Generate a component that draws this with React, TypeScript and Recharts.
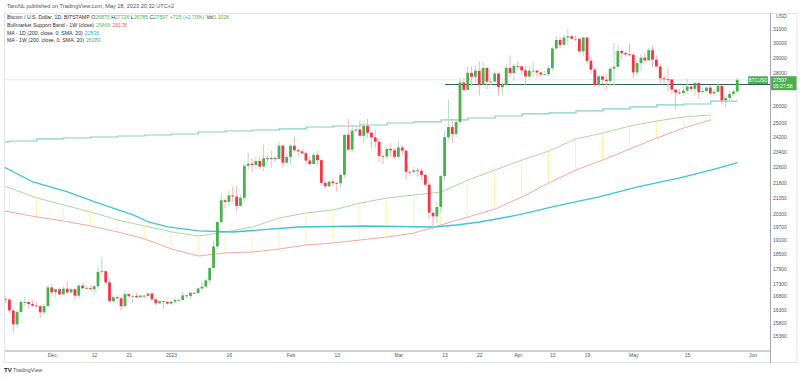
import React from 'react';
import { ComposedChart, Bar, Line, XAxis, YAxis, ReferenceLine } from 'recharts';

// ---------------- data ----------------
const candleStart = '2022-11-19';
const firstOpen = 16700;

const closes = [
  16690, 16280, 15770, 16220, 16600, 16600, 16520, 16460, 16440, 16210, 16440, 17160,
  16970, 17090, 16890, 17110, 16970, 17090, 16840, 17230, 17130, 17130, 17090, 17210, 17780, 17810, 17360, 16630, 16780, 16740, 16440, 16900, 16820, 16830, 16780, 16840, 16830, 16920, 16700, 16550, 16630, 16600, 16540,
  16610, 16670, 16670, 16850, 16830, 16950, 16940, 17120, 17190, 17440, 17940, 18850, 19930, 20950, 20870, 21180, 21130, 20680, 21070, 22670, 22780, 22710, 22920, 22630, 23060, 23010, 23080, 23030, 23740, 22830, 23130,
  23730, 23490, 23430, 23330, 22940, 22760, 23240, 22960, 21800, 21630, 21860, 21790, 21780, 22200, 24330, 23520, 24570, 24630, 24280, 24840, 24450, 24190, 23950, 23190, 23160, 23560, 23490, 23140,
  23640, 23470, 22360, 22350, 22430, 22410, 22200, 21710, 20360, 20190, 20630, 22140, 24200, 24770, 24380, 25060, 27430, 26970, 28040, 27790, 28170, 27310, 28350, 27480, 27490, 28000, 27140, 27270, 28360, 28030, 28480,
  28460, 28200, 27810, 28180, 28180, 28060, 27930, 27950, 28340, 29650, 30230, 29890, 30400, 30490, 30320, 30320, 29450, 30400, 28820, 28250, 27270, 27820, 27600, 27520, 28310, 28430, 29480, 29340, 29250, 29230,
  28070, 28670, 29030, 28850, 29530, 28900, 28450, 27690, 27630, 27620, 26990, 26800, 26780, 26920, 27170, 27030, 27400, 26830, 26890, 27110, 26750, 26850, 27220, 26330, 26470, 26720, 26870, 27597,
];
const highs = [
  16810, 16750, 16290, 16300, 16700, 16810, 16600, 16680, 16600, 16480, 16530, 17240,
  17310, 17100, 17160, 17200, 17410, 17110, 17130, 17300, 17350, 17230, 17270, 17240, 18000, 18390, 17840, 17530, 16800, 16860, 16800, 17050, 16900, 16860, 16950, 16870, 16860, 16950, 16960, 16780, 16650, 16630, 16640,
  16630, 16780, 16760, 17000, 16880, 17000, 16970, 17170, 17400, 17490, 17990, 19100, 19990, 21260, 21030, 21440, 21620, 21650, 21190, 22740, 23350, 23060, 23150, 23170, 23790, 23250, 23490, 23170, 23970, 23800, 23300,
  23810, 24240, 23580, 23570, 23440, 23150, 23360, 23450, 22990, 21900, 21900, 22060, 21880, 22300, 24380, 25240, 24920, 24860, 25150, 25100, 25250, 24480, 24590, 24120, 23210, 23690, 23880, 23600,
  24000, 23780, 23480, 22410, 22610, 22550, 22530, 22250, 21800, 20370, 20860, 22190, 24570, 26390, 25280, 25220, 27750, 27710, 28430, 28450, 28530, 28800, 28780, 28390, 27770, 28200, 28040, 27490, 28650, 29170, 28640,
  28800, 28530, 28490, 28460, 28740, 28190, 28100, 28170, 28520, 29770, 30480, 30440, 30610, 31030, 30590, 30550, 30320, 30480, 30420, 29090, 28380, 27900, 27830, 28000, 28410, 30020, 29890, 29600, 29440, 29960,
  29340, 28880, 29260, 29370, 29690, 29840, 29180, 28650, 27820, 28330, 27630, 27000, 27030, 27190, 27650, 27280, 27470, 27470, 27170, 27160, 27260, 27040, 27480, 27220, 26640, 26930, 26980, 27726,
];
const lows = [
  16560, 16180, 15480, 15630, 16170, 16460, 16350, 16410, 16400, 16000, 16110, 16430,
  16850, 16790, 16860, 16880, 16900, 16910, 16690, 16740, 17090, 17090, 17070, 16880, 17090, 17660, 17280, 16590, 16580, 16690, 16270, 16400, 16760, 16560, 16760, 16780, 16740, 16790, 16600, 16460, 16510, 16330, 16490,
  16490, 16550, 16600, 16650, 16750, 16700, 16900, 16910, 17100, 17150, 17310, 17910, 18730, 19880, 20550, 20650, 20860, 20430, 20660, 20880, 22440, 22330, 22510, 22480, 22370, 22860, 22550, 22880, 22990, 22560, 22740,
  22760, 23370, 23230, 23250, 22760, 22640, 22750, 22680, 21690, 21480, 21600, 21640, 21370, 21540, 22050, 23510, 23370, 24470, 24240, 23870, 24160, 23600, 23640, 22850, 22750, 22990, 23110, 23030,
  23030, 23200, 21980, 22170, 22230, 22110, 21930, 21600, 20050, 19570, 19900, 20370, 21880, 24060, 23920, 24190, 24920, 26830, 26940, 27200, 27400, 26620, 27190, 27000, 27220, 27440, 26600, 26660, 27240, 27720, 27540,
  28260, 27900, 27290, 27680, 27830, 27750, 27790, 27880, 27810, 28170, 29620, 29670, 29880, 29900, 30240, 30140, 29270, 29120, 28610, 28010, 27150, 27150, 27350, 26970, 27200, 27270, 28390, 28900, 29090, 29100,
  27680, 27900, 28150, 28690, 28830, 28390, 28390, 27300, 27370, 26830, 26720, 25810, 26700, 26610, 26740, 26880, 26610, 26410, 26700, 26860, 26670, 26560, 26810, 26100, 25880, 26370, 26630, 26785,
];

// weekly series (one value per week, first week starting 2022-11-13)
const weeklyStart = '2022-11-13';
const bullBandSma20w = [21990, 21545, 21059, 20723, 20396, 20024, 19751, 19482, 19304, 19482, 19706, 20118, 20349, 20489, 20816, 21059, 21203, 21349, 21942, 22451, 22971, 23449, 24103, 24434, 24829, 25115, 25346, 25466];
const bullBandEma21w = [20630, 20396, 20164, 19978, 19751, 19482, 19173, 18739, 18440, 18569, 18611, 18739, 18910, 18998, 19130, 19260, 19438, 19796, 20164, 20535, 21108, 21793, 22451, 22971, 23557, 24157, 24716, 25178];
const ma200w = [23939, 23992, 24103, 24157, 24213, 24268, 24324, 24379, 24491, 24547, 24604, 24661, 24773, 24829, 24887, 25001, 25059, 25178, 25287, 25404, 25523, 25582, 25700, 25820, 25941, 26053, 26112, 26283];

// daily 200 SMA, read at sample dates
const ma200dDates = ['2022-11-18', '2022-11-26', '2022-12-05', '2022-12-13', '2022-12-22', '2022-12-26', '2022-12-31', '2023-01-08', '2023-01-17', '2023-02-03', '2023-02-20', '2023-03-10', '2023-03-16', '2023-03-22', '2023-04-01', '2023-04-11', '2023-04-22', '2023-05-02', '2023-05-13', '2023-05-21', '2023-05-28'];
const ma200dValues = [22650, 21843, 21349, 20816, 20255, 19932, 19707, 19527, 19482, 19706, 19750, 19706, 19796, 19932, 20255, 20677, 21108, 21595, 22044, 22450, 22836];

const supportLevel = 27300;
const supportFrom = '2023-03-13';

const xTickDates = ['2022-12-01', '2022-12-12', '2022-12-21', '2023-01-01', '2023-01-16', '2023-02-01', '2023-02-13', '2023-03-01', '2023-03-13', '2023-03-22', '2023-04-01', '2023-04-10', '2023-04-19', '2023-05-01', '2023-05-15', '2023-06-01'];
const xTickLabels = ['Dec', '12', '21', '2023', '16', 'Feb', '13', 'Mar', '13', '22', 'Apr', '10', '19', 'May', '15', 'Jun'];
const yTicks = [15360, 15800, 16300, 16800, 17300, 17900, 18500, 19100, 19700, 20300, 21050, 21800, 22600, 23400, 24200, 25000, 26000, 28000, 29000, 30000, 31000];

// ---------------- styles ----------------
const upColor = '#4caf50';
const downColor = '#f23645';
const wickUp = '#b5dcc6';
const wickDown = '#f6b3b8';
const axisText = '#50535e';
const FONT = "'Liberation Sans', Arial, sans-serif";

// ---------------- build table ----------------
const DAY_MS = 86400000;
const parse = (s: string) => { const [y, m, d] = s.split('-').map(Number); return Date.UTC(y, m - 1, d); };
const t0 = parse(candleStart);
const dayOf = (s: string) => Math.round((parse(s) - t0) / DAY_MS);

type Row = { d: number; [k: string]: any };
const rowMap = new Map<number, Row>();
const row = (d: number): Row => { let r = rowMap.get(d); if (!r) { r = { d }; rowMap.set(d, r); } return r; };

const n = Math.min(closes.length, highs.length, lows.length);
for (let i = 0; i < n; i++) {
  const open = i === 0 ? firstOpen : closes[i - 1];
  const close = closes[i];
  const high = Math.max(highs[i], open, close);
  const low = Math.min(lows[i], open, close);
  Object.assign(row(i), { open, close, high, low, range: [low, high] });
}
const w0 = dayOf(weeklyStart);
bullBandSma20w.forEach((v, k) => {
  const e = bullBandEma21w[k];
  const r = row(w0 + 7 * k);
  r.sma20w = v; r.ema21w = e; r.band = [Math.min(v, e), Math.max(v, e)];
});
ma200w.forEach((v, k) => { row(w0 + 7 * k).ma200w = v; });
row(n - 1).ma200w = ma200w[ma200w.length - 1];
ma200dDates.forEach((s, k) => { row(dayOf(s)).ma200d = ma200dValues[k]; });
const rows = Array.from(rowMap.values()).sort((a, b) => a.d - b.d);

const lastClose = closes[n - 1];
const xMin = -0.52;
const xMax = 198.39;
const tickDays = xTickDates.map(dayOf);
const tickLabelMap = new Map<number, string>(tickDays.map((d, i) => [d, xTickLabels[i]]));

// ---------------- shapes ----------------
const Candle = (p: any) => {
  const { x, y, width, height, payload } = p;
  if (!payload || payload.high == null || !isFinite(y) || !isFinite(height)) return null;
  const top = Math.min(y, y + height);
  const bot = Math.max(y, y + height);
  const lh = Math.log(payload.high);
  const ll = Math.log(payload.low);
  const span = lh - ll;
  const py = (v: number) => (span > 0 ? top + ((bot - top) * (lh - Math.log(v))) / span : top);
  const up = payload.close >= payload.open;
  const cx = x + width / 2;
  const bTop = py(Math.max(payload.open, payload.close));
  const bBot = py(Math.min(payload.open, payload.close));
  return (
    <g>
      <line x1={cx} x2={cx} y1={top} y2={bot} stroke={up ? wickUp : wickDown} strokeWidth={1} />
      <rect x={cx - 1.4} y={bTop} width={2.8} height={Math.max(0.8, bBot - bTop)} fill={up ? upColor : downColor} />
    </g>
  );
};

const BandTick = (p: any) => {
  const { x, y, width, height } = p;
  if (!isFinite(y) || !isFinite(height) || !height) return null;
  const cx = x + width / 2;
  return <line x1={cx} x2={cx} y1={y} y2={y + height} stroke="#fff3a6" strokeWidth={1} />;
};

const PriceTag = (p: any) => {
  const vb = p.viewBox || {};
  const { x, y, width } = vb;
  if (!isFinite(y)) return null;
  const right = x + width;
  return (
    <g style={{ fontFamily: FONT }}>
      <rect x={right - 22} y={y - 3.6} width={20} height={8.2} fill={upColor} rx={1} />
      <text x={right - 12} y={y + 2.1} fontSize={4.6} fill="#fff" textAnchor="middle">BTCUSD</text>
      <rect x={right} y={y - 3.6} width={27} height={14} fill={upColor} />
      <text x={right + 3} y={y + 2.2} fontSize={5} fill="#fff">{String(lastClose)}</text>
      <text x={right + 3} y={y + 8.6} fontSize={5} fill="#fff">05:27:58</text>
    </g>
  );
};

// ---------------- component ----------------
export default function App() {
  return (
    <div style={{ position: 'absolute', left: 0, top: 0, width: 800, height: 378, background: '#fff', fontFamily: FONT }}>
      <ComposedChart width={800} height={378} data={rows} margin={{ top: 13, right: 0, bottom: 0, left: 4 }}>
        <XAxis
          xAxisId="x"
          dataKey="d"
          type="number"
          domain={[xMin, xMax]}
          allowDataOverflow
          ticks={tickDays}
          interval={0}
          tickFormatter={(v: number) => tickLabelMap.get(v) ?? ''}
          tick={{ fontSize: 5, fill: axisText }}
          tickLine={false}
          tickSize={0}
          tickMargin={2}
          axisLine={{ stroke: '#a3a6af' }}
          height={27}
        />
        <XAxis xAxisId="xb" dataKey="d" type="number" domain={[xMin, xMax]} allowDataOverflow hide />
        <YAxis
          orientation="right"
          scale="log"
          domain={[14837, 32156]}
          allowDataOverflow
          ticks={yTicks}
          interval={0}
          tick={{ fontSize: 5, fill: axisText }}
          tickLine={false}
          tickSize={0}
          tickMargin={3}
          axisLine={false}
          width={30}
        />
        <Bar xAxisId="xb" dataKey="band" barSize={1} shape={BandTick} isAnimationActive={false} />
        <Line xAxisId="x" dataKey="sma20w" stroke="#a9d9a4" strokeWidth={1} dot={false} connectNulls isAnimationActive={false} />
        <Line xAxisId="x" dataKey="ema21w" stroke="#f7a7a0" strokeWidth={1} dot={false} connectNulls isAnimationActive={false} />
        <Line xAxisId="x" dataKey="ma200d" stroke="#3cc4dc" strokeWidth={1.3} dot={false} connectNulls isAnimationActive={false} />
        <Line xAxisId="x" dataKey="ma200w" type="stepAfter" stroke="#86cfc3" strokeWidth={1.2} dot={false} connectNulls isAnimationActive={false} />
        <ReferenceLine xAxisId="x" y={lastClose} stroke="#4caf50" strokeOpacity={0.2} strokeWidth={1} label={<PriceTag />} />
        <ReferenceLine
          xAxisId="x"
          segment={[{ x: dayOf(supportFrom), y: supportLevel }, { x: xMax, y: supportLevel }]}
          stroke="#2c5a57"
          strokeWidth={1}
          ifOverflow="hidden"
        />
        <Bar xAxisId="x" dataKey="range" barSize={3} shape={Candle} isAnimationActive={false} zIndex={450} />
      </ComposedChart>

      <svg width={800} height={378} style={{ position: 'absolute', left: 0, top: 0, pointerEvents: 'none', fontFamily: FONT }}>
        <rect x={4.5} y={13.5} width={792.5} height={349} fill="none" stroke="#e0e3eb" strokeWidth={1} />
        <line x1={770.5} x2={770.5} y1={13} y2={363} stroke="#a3a6af" strokeWidth={1} />
        <text x={776} y={17.8} fontSize={5} fill={axisText}>USD</text>
        <text x={7} y={7.6} fontSize={5.6} fill="#50535e">TaroNL published on TradingView.com, May 28, 2023 20:32 UTC+2</text>
        <text x={7} y={19.2} fontSize={5.2} fill="#2a2e39">
          Bitcoin / U.S. Dollar, 1D, BITSTAMP
          <tspan dx={1.5}>O</tspan><tspan fill={upColor}>26875</tspan>
          <tspan dx={1.5}>H</tspan><tspan fill={upColor}>27726</tspan>
          <tspan dx={1.5}>L</tspan><tspan fill={upColor}>26785</tspan>
          <tspan dx={1.5}>C</tspan><tspan fill={upColor}>{String(lastClose)}</tspan>
          <tspan dx={2} fill={upColor}>+725 (+2.70%)</tspan>
          <tspan dx={2}>Vol</tspan><tspan fill={upColor}>1.102K</tspan>
        </text>
        <text x={7} y={26.9} fontSize={5.2} fill="#2a2e39">
          Bullmarket Support Band - 1W (close)
          <tspan dx={2} fill="#5cb85c">{String(bullBandSma20w[bullBandSma20w.length - 1])}</tspan>
          <tspan dx={2} fill="#f05a5a">{String(bullBandEma21w[bullBandEma21w.length - 1])}</tspan>
        </text>
        <text x={7} y={34.6} fontSize={5.2} fill="#2a2e39">
          MA - 1D (200, close, 0, SMA, 20)
          <tspan dx={2} fill="#22b8d0">{String(ma200dValues[ma200dValues.length - 1])}</tspan>
        </text>
        <text x={7} y={42.3} fontSize={5.2} fill="#2a2e39">
          MA - 1W (200, close, 0, SMA, 20)
          <tspan dx={2} fill="#3fae9f">{String(ma200w[ma200w.length - 1])}</tspan>
        </text>
        <text x={4} y={372} fontSize={6} fontWeight="bold" fill="#131722">TV</text>
        <text x={13} y={372} fontSize={5.3} fill="#50535e">TradingView</text>
      </svg>
    </div>
  );
}
